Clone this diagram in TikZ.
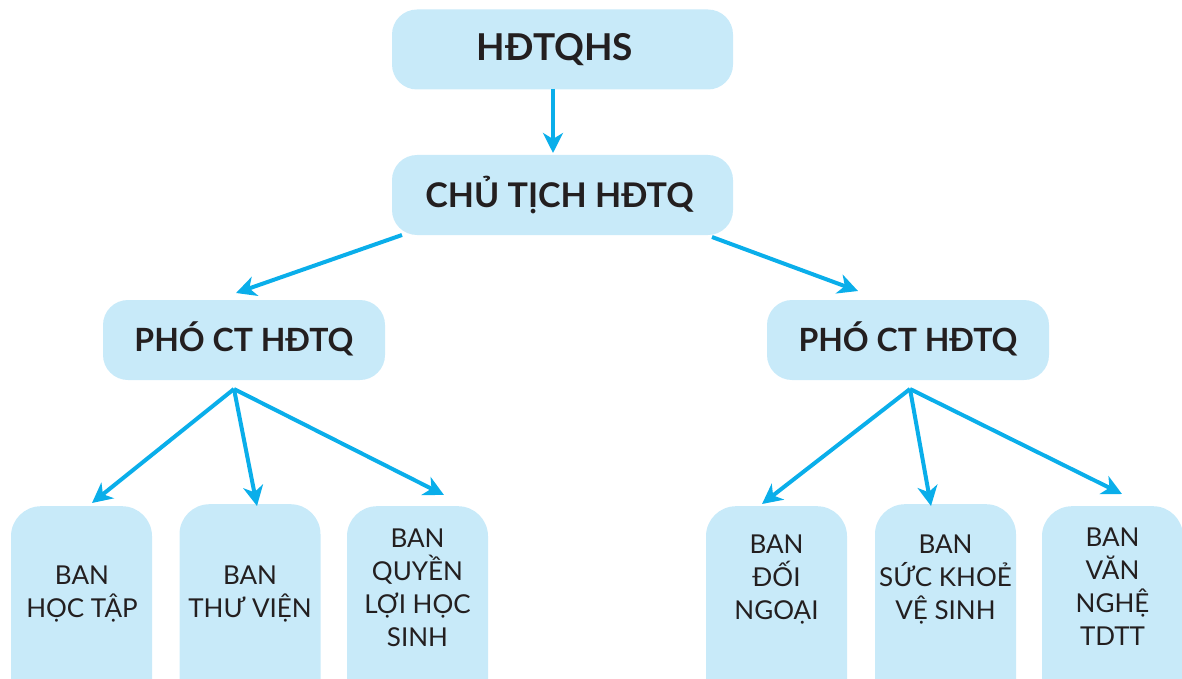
\documentclass[tikz,border=0pt]{standalone}
\usepackage{fontspec}
\setmainfont{Lato}
\usetikzlibrary{arrows.meta}
\definecolor{boxfill}{HTML}{C8EAF9}
\definecolor{arrowc}{HTML}{0AAEEA}
\definecolor{txt}{HTML}{231F20}
\tikzset{
  topbox/.style={draw=none, fill=boxfill, rounded corners=25pt, minimum width=341pt, minimum height=80pt, inner sep=0pt, text=txt, font=\fontsize{37}{40}\selectfont\bfseries},
  ctbox/.style={topbox, font=\fontsize{34}{38}\selectfont\bfseries},
  midbox/.style={draw=none, fill=boxfill, rounded corners=25pt, minimum width=282pt, minimum height=80pt, inner sep=0pt, text=txt, font=\fontsize{32}{36}\selectfont\bfseries},
  banbox/.style={draw=none, fill=boxfill, rounded corners=30pt, minimum width=141pt, minimum height=220pt, inner sep=0pt, anchor=north},
  bantext/.style={align=center, text=txt, font=\fontsize{26}{33}\selectfont, inner sep=0pt},
  conn/.style={draw=arrowc, line width=4pt, -{Stealth[length=20pt, width=20pt, inset=6pt]}}
}
\begin{document}
\begin{tikzpicture}[x=1pt,y=-1pt]
\useasboundingbox (0,0) rectangle (1182,679);
\clip (0,0) rectangle (1182,679);
% top
\node[topbox] (hd) at (562.5,49.5) {\hspace*{-15pt}\raisebox{5pt}{HĐTQHS}};
\node[ctbox] (ct) at (562.5,195) {\hspace*{-6pt}\raisebox{5pt}{CHỦ TỊCH HĐTQ}};
\node[midbox] (pl) at (244,340) {\raisebox{6pt}{PHÓ CT HĐTQ}};
\node[midbox] (pr) at (908,340) {\raisebox{6pt}{PHÓ CT HĐTQ}};
% bottom boxes
\node[banbox] (b1) at (81.5,506) {};
\node[banbox] (b2) at (250,504) {};
\node[banbox] (b3) at (417.5,506) {};
\node[banbox] (b4) at (776.5,506) {};
\node[banbox] (b5) at (945.5,504) {};
\node[banbox] (b6) at (1112.5,506) {};
\node[bantext] (t1) at (82,594) {BAN\\HỌC TẬP};
\node[bantext] (t2) at (250,594) {BAN\\THƯ VIỆN};
\node[bantext] (t3) at (417.5,588) {BAN\\QUYỀN\\LỢI HỌC\\SINH};
\node[bantext] (t4) at (776.5,580) {BAN\\ĐỐI\\NGOẠI};
\node[bantext] (t5) at (945.5,580) {BAN\\SỨC KHOẺ\\VỆ SINH};
\node[bantext] (t6) at (1112.5,587) {BAN\\VĂN\\NGHỆ\\TDTT};
% connector coordinates
\coordinate (hdS) at (553,89);
\coordinate (ctN) at (553,153);
\coordinate (ctL) at (402,235);
\coordinate (ctR) at (712,237);
\coordinate (plN) at (236,293);
\coordinate (prN) at (858,291);
\coordinate (plS) at (234,389);
\coordinate (prS) at (910,389);
\coordinate (b1N) at (92,503);
\coordinate (b2N) at (257,506);
\coordinate (b3N) at (444,495);
\coordinate (b4N) at (762,504);
\coordinate (b5N) at (931,506);
\coordinate (b6N) at (1122,494);
\draw[conn] (hdS) -- (ctN);
\draw[conn] (ctL) -- (plN);
\draw[conn] (ctR) -- (prN);
\draw[conn] (plS) -- (b1N);
\draw[conn] (plS) -- (b2N);
\draw[conn] (plS) -- (b3N);
\draw[conn] (prS) -- (b4N);
\draw[conn] (prS) -- (b5N);
\draw[conn] (prS) -- (b6N);
\end{tikzpicture}
\end{document}
